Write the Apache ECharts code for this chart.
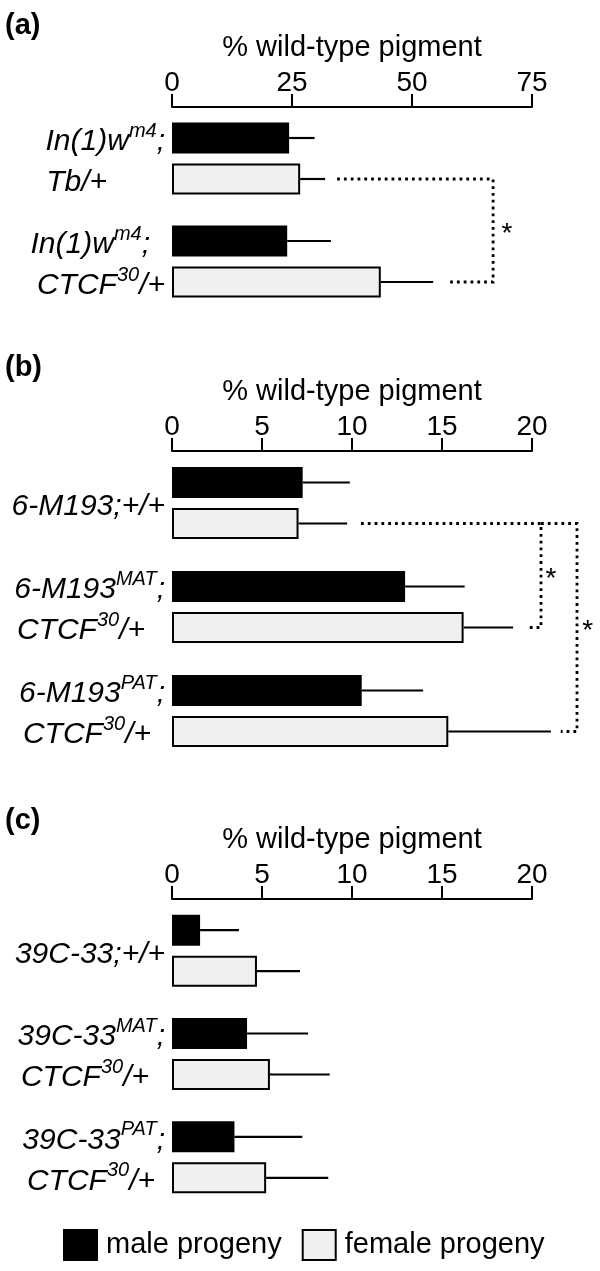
<!DOCTYPE html>
<html>
<head>
<meta charset="UTF-8">
<title>% wild-type pigment</title>
<script src="https://cdn.jsdelivr.net/npm/echarts@6/dist/echarts.min.js"></script>
<style>
  html, body { margin: 0; padding: 0; background: #fff; }
  #chart { width: 600px; height: 1271px; }
</style>
</head>
<body>
<div id="chart"></div>
<script type="text/javascript">
// ---- data ----
// text between ^...^ is superscript
var labelsA = [['In(1)w^m4^;', 'Tb/+'], ['In(1)w^m4^;', 'CTCF^30^/+']];
var maleA = [24.4, 24.0];
var maleErrA = [29.7, 33.1];
var femaleA = [26.7, 43.5];
var femaleErrA = [31.9, 54.4];

var labelsB = [['6-M193;+/+'], ['6-M193^MAT^;', 'CTCF^30^/+'], ['6-M193^PAT^;', 'CTCF^30^/+']];
var maleB = [7.26, 12.95, 10.54];
var maleErrB = [9.88, 16.26, 13.95];
var femaleB = [7.03, 16.2, 15.35];
var femaleErrB = [9.73, 18.95, 21.05];

var labelsC = [['39C-33;+/+'], ['39C-33^MAT^;', 'CTCF^30^/+'], ['39C-33^PAT^;', 'CTCF^30^/+']];
var maleC = [1.56, 4.17, 3.47];
var maleErrC = [3.72, 7.56, 7.24];
var femaleC = [4.72, 5.44, 5.23];
var femaleErrC = [7.11, 8.76, 8.68];

// significance brackets: [from group, to group, top line start, vertical x, bottom line start, star x]
var bracketsA = [[0, 1, 34.4, 66.9, 57.5, 69.8]];
var bracketsB = [[0, 1, 10.5, 20.5, 19.7, 21.05], [0, 2, 20.5, 22.5, 21.6, 23.1]];

var axisMax = [75, 20, 20];
var axisStep = [25, 5, 5];
var panelNames = ['(a)', '(b)', '(c)'];
var axisTitle = '% wild-type pigment';
var seriesNames = ['male progeny', 'female progeny'];

// ---- layout ----
var FONT = "'Liberation Sans', Arial, Helvetica, sans-serif";
var BAR_W = 31, BAR_GAP = 10;
var ROW_OFF = (BAR_W + BAR_GAP) / 2;
var grids = [
  { left: 172, width: 360, top: 107, height: 206 },
  { left: 172, width: 360, top: 451, height: 312 },
  { left: 172, width: 360, top: 899, height: 310 }
];
var panelTop = [11, 353, 806];
// how far each label line is pushed left of the common right edge
var lineShift = [
  [[0, 58], [15, 0]],
  [[0], [0, 20], [0, 14]],
  [[0], [0, 16], [0, 10]]
];

var rich = {
  i: { fontFamily: FONT, fontStyle: 'italic', fontSize: 30, lineHeight: 41, color: '#000' },
  s: { fontFamily: FONT, fontStyle: 'italic', fontSize: 20, lineHeight: 26, verticalAlign: 'top', color: '#000' }
};
function lineRich(str, pad) {
  var parts = str.split('^');
  var out = '';
  for (var k = 0; k < parts.length; k++) {
    if (parts[k] === '') continue;
    var st = (k % 2) ? 's' : 'i';
    if (k === parts.length - 1 && pad) {
      st = 'p' + pad;
      if (!rich[st]) rich[st] = { fontFamily: FONT, fontStyle: 'italic', fontSize: 30, lineHeight: 41, color: '#000', padding: [0, pad, 0, 0] };
    }
    out += '{' + st + '|' + parts[k] + '}';
  }
  return out;
}
function buildLabels(groups, shifts) {
  return groups.map(function (lines, g) {
    return lines.map(function (l, j) { return lineRich(l, shifts[g][j]); }).join('\n');
  });
}

var panels = [
  { labels: labelsA, male: maleA, maleErr: maleErrA, female: femaleA, femaleErr: femaleErrA, brackets: bracketsA },
  { labels: labelsB, male: maleB, maleErr: maleErrB, female: femaleB, femaleErr: femaleErrB, brackets: bracketsB },
  { labels: labelsC, male: maleC, maleErr: maleErrC, female: femaleC, femaleErr: femaleErrC, brackets: [] }
];

function errRender(params, api) {
  var g = api.value(0), sex = api.value(1);
  var a = api.coord([api.value(2), g]);
  var b = api.coord([api.value(3), g]);
  var off = (sex ? 1 : -1) * ROW_OFF;
  return {
    type: 'line',
    shape: { x1: a[0], y1: a[1] + off, x2: b[0], y2: b[1] + off },
    style: { stroke: '#000', lineWidth: 2.2 }
  };
}
function bracketRender(params, api) {
  var g0 = api.value(0), g1 = api.value(1);
  var pTop = api.coord([api.value(2), g0]);
  var pV0 = api.coord([api.value(3), g0]);
  var pV1 = api.coord([api.value(3), g1]);
  var pBot = api.coord([api.value(4), g1]);
  var y0 = pTop[1] + ROW_OFF, y1 = pBot[1] + ROW_OFF;
  var star = api.coord([api.value(5), g0]);
  return {
    type: 'group',
    children: [{
      type: 'polyline',
      shape: { points: [[pTop[0], y0], [pV0[0], y0], [pV1[0], y1], [pBot[0], y1]] },
      style: { stroke: '#000', lineWidth: 2.8, lineDash: [2.8, 4], fill: null }
    }, {
      type: 'text',
      style: {
        text: '*', x: star[0], y: (y0 + y1) / 2 + 4,
        font: '28px ' + FONT, fill: '#000', align: 'center', verticalAlign: 'middle'
      }
    }]
  };
}

var option = {
  backgroundColor: '#fff',
  animation: false,
  title: panelNames.map(function (t, k) {
    return { text: t, left: 5, top: panelTop[k], padding: 0,
      textStyle: { fontFamily: FONT, fontWeight: 'bold', fontSize: 29, color: '#000' } };
  }),
  legend: {
    data: seriesNames,
    left: 63, top: 1229, padding: 0,
    itemWidth: 33, itemHeight: 30, itemGap: 20,
    icon: 'rect',
    textStyle: { fontFamily: FONT, fontSize: 29, color: '#000', padding: [0, 0, 0, 4] }
  },
  grid: grids,
  xAxis: grids.map(function (g, k) {
    return {
      type: 'value', gridIndex: k, position: 'top',
      min: 0, max: axisMax[k], interval: axisStep[k],
      name: axisTitle, nameLocation: 'middle', nameGap: 45,
      nameTextStyle: { fontFamily: FONT, fontSize: 29, color: '#000' },
      axisLine: { show: true, lineStyle: { color: '#000', width: 2 } },
      axisTick: { show: true, length: 13, lineStyle: { color: '#000', width: 2 } },
      axisLabel: { fontFamily: FONT, fontSize: 28, color: '#000', margin: 10 },
      splitLine: { show: false }
    };
  }),
  yAxis: panels.map(function (p, k) {
    return {
      type: 'category', gridIndex: k, inverse: true,
      data: buildLabels(p.labels, lineShift[k]),
      axisLine: { show: false }, axisTick: { show: false },
      axisLabel: { margin: 7, lineHeight: 41, rich: rich, interval: 0, padding: [7, 0, 0, 0] }
    };
  }),
  series: []
};

panels.forEach(function (p, k) {
  option.series.push({
    name: seriesNames[0], type: 'bar', xAxisIndex: k, yAxisIndex: k,
    barWidth: BAR_W, barGap: (BAR_GAP / BAR_W * 100) + '%',
    itemStyle: { color: '#000', borderColor: '#000', borderWidth: 2 },
    data: p.male
  });
  option.series.push({
    name: seriesNames[1], type: 'bar', xAxisIndex: k, yAxisIndex: k,
    barWidth: BAR_W, barGap: (BAR_GAP / BAR_W * 100) + '%',
    itemStyle: { color: '#f0f0f0', borderColor: '#000', borderWidth: 2 },
    data: p.female
  });
  var errs = [];
  p.male.forEach(function (v, g) { errs.push([g, 0, v, p.maleErr[g]]); });
  p.female.forEach(function (v, g) { errs.push([g, 1, v, p.femaleErr[g]]); });
  option.series.push({
    type: 'custom', xAxisIndex: k, yAxisIndex: k, renderItem: errRender,
    encode: { x: [2, 3], y: 0 }, data: errs, z: 3
  });
  if (p.brackets.length) {
    option.series.push({
      type: 'custom', xAxisIndex: k, yAxisIndex: k, renderItem: bracketRender,
      encode: { x: [2, 3], y: 0 }, data: p.brackets, z: 3
    });
  }
});

var chart = echarts.init(document.getElementById('chart'));
chart.setOption(option);
</script>
</body>
</html>
